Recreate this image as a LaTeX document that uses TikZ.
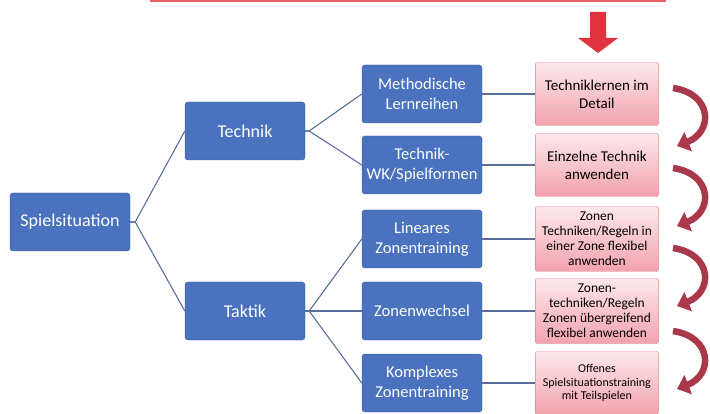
\documentclass[tikz,border=0pt]{standalone}
\usepackage{fontspec}
\setmainfont{Carlito}
\usetikzlibrary{arrows.meta,positioning}
\definecolor{boxblue}{HTML}{4A72BE}
\definecolor{boxblueline}{HTML}{3A5C9E}
\definecolor{pinktop}{HTML}{FDE8EC}
\definecolor{pinkbot}{HTML}{F2A2AE}
\definecolor{pinkline}{HTML}{DE8090}
\definecolor{linkgrey}{HTML}{5B6F9C}
\definecolor{bendred}{HTML}{A8384A}
\definecolor{droparrow}{HTML}{E0323F}

\begin{document}
\begin{tikzpicture}[x=1pt, y=-1pt, every node/.style={font=\fontsize{16.5}{19.5}\selectfont}]
\tikzset{topic/.style={draw=boxblueline, fill=boxblue, text=white, rounded corners=3pt, minimum width=120pt, minimum height=58pt, align=center, inner sep=2pt}}
\tikzset{bigtopic/.style={topic, font=\fontsize{18}{21}\selectfont}}
\tikzset{goal/.style={draw=pinkline, top color=pinktop, bottom color=pinkbot, rounded corners=2pt, minimum width=123pt, minimum height=63pt, align=center, inner sep=2pt}}
\tikzset{link/.style={draw=linkgrey, line width=1.1pt}}
\tikzset{curlarrow/.style={draw=bendred, line width=6.5pt, -{Triangle[width=20pt,length=12pt]}}}
\useasboundingbox (0,0) rectangle (710,414);
% top edge and drop arrow
\draw[droparrow!80, line width=1.5pt] (150,1) -- (666,1);
\fill[droparrow] (590,12) -- (606,12) -- (606,38) -- (618,38) -- (598,53) -- (578,38) -- (590,38) -- cycle;
% tree
\node[bigtopic] (spiel) at (70,222) {Spielsituation};
\node[bigtopic] (technik) at (245,131) {Technik};
\node[bigtopic] (taktik) at (245,311) {Taktik};
\node[topic] (meth) at (422,94) {Methodische\\Lernreihen};
\node[topic] (wk) at (422,165) {Technik-\\WK/Spielformen};
\node[topic] (linear) at (422,239) {Lineares\\Zonentraining};
\node[topic] (wechsel) at (422,311) {Zonenwechsel};
\node[topic] (komplex) at (422,383) {Komplexes\\Zonentraining};
% goals
\node[goal, right=53pt of meth, font=\fontsize{15}{18}\selectfont] (ziel1) {Techniklernen im\\Detail};
\node[goal, right=53pt of wk, font=\fontsize{15}{18}\selectfont] (ziel2) {Einzelne Technik\\anwenden};
\node[goal, right=53pt of linear, minimum height=65pt, font=\fontsize{13.5}{15}\selectfont] (ziel3) {Zonen\\Techniken/Regeln in\\einer Zone flexibel\\anwenden};
\node[goal, right=53pt of wechsel, minimum height=65pt, font=\fontsize{13.5}{15}\selectfont] (ziel4) {Zonen-\\techniken/Regeln\\Zonen übergreifend\\flexibel anwenden};
\node[goal, right=53pt of komplex, font=\fontsize{12}{13.5}\selectfont] (ziel5) {Offenes\\Spielsituationstraining\\mit Teilspielen};
% connectors
\draw[link] (spiel.east) -- ++(5,0) -- (technik.west);
\draw[link] (spiel.east) -- ++(5,0) -- (taktik.west);
\draw[link] (technik.east) -- ++(4,0) -- (meth.west);
\draw[link] (technik.east) -- ++(4,0) -- (wk.west);
\draw[link] (taktik.east) -- ++(4,0) -- (linear.west);
\draw[link] (taktik.east) -- (wechsel.west);
\draw[link] (taktik.east) -- ++(4,0) -- (komplex.west);
\draw[link] (meth) -- (ziel1);
\draw[link] (wk) -- (ziel2);
\draw[link] (linear) -- (ziel3);
\draw[link] (wechsel) -- (ziel4);
\draw[link] (komplex) -- (ziel5);
% curved arrows
\foreach \ys in {88,168,248,331}
  \draw[curlarrow] (673,\ys) .. controls (713,\ys+6) and (713,\ys+44) .. (677,\ys+58);
\end{tikzpicture}
\end{document}
